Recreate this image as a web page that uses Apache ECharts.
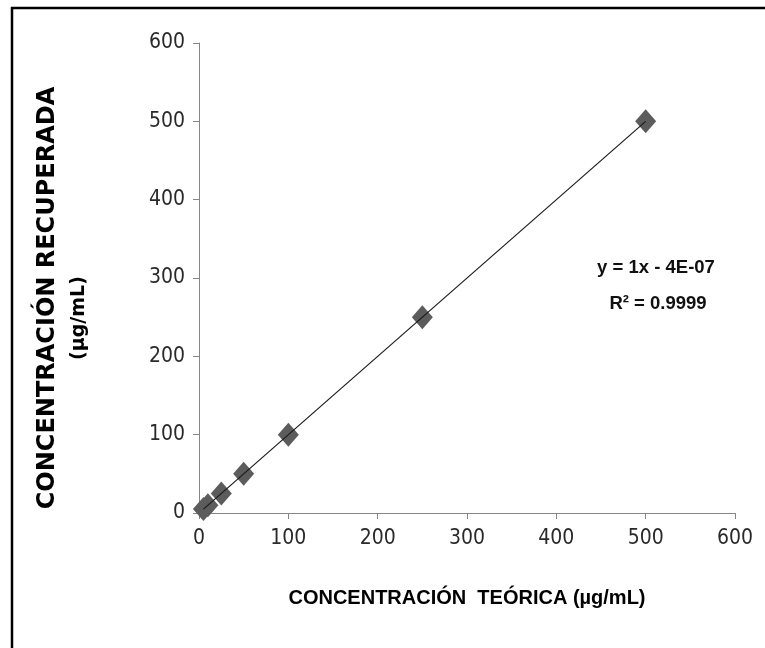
<!DOCTYPE html>
<html>
<head>
<meta charset="utf-8">
<script src="https://cdn.jsdelivr.net/npm/echarts@6/dist/echarts.min.js"></script>
<style>
  html, body { margin: 0; padding: 0; background: #fff; }
  #chart { width: 765px; height: 648px; }
</style>
</head>
<body>
<div id="chart"></div>
<script>
// Theoretical vs. recovered concentration (µg/mL)
const teorica = [5, 10, 25, 50, 100, 250, 500];
const recuperada = [5, 10, 25, 50, 100, 250, 500];
const axisTicks = [0, 100, 200, 300, 400, 500, 600];

// Linear trendline parameters shown in the annotation
const slope = 1;
const intercept = -4e-7;
const r2Text = '0.9999';

const xMin = Math.min(...teorica);
const xMax = Math.max(...teorica);
const trend = [[xMin, slope * xMin + intercept], [xMax, slope * xMax + intercept]];

const tickFont = '"DejaVu Sans Condensed", sans-serif';

const chart = echarts.init(document.getElementById('chart'));
chart.setOption({
  animation: false,
  backgroundColor: '#fff',
  grid: { left: 199, right: 30, top: 43, bottom: 135 },
  xAxis: {
    type: 'value',
    min: axisTicks[0],
    max: axisTicks[axisTicks.length - 1],
    interval: 100,
    splitLine: { show: false },
    axisLine: { onZero: false, lineStyle: { color: '#868686', width: 1 } },
    axisTick: { length: 6, lineStyle: { color: '#868686' } },
    axisLabel: { color: '#2a2a2a', fontFamily: tickFont, fontSize: 21, margin: 15 }
  },
  yAxis: {
    type: 'value',
    min: axisTicks[0],
    max: axisTicks[axisTicks.length - 1],
    interval: 100,
    splitLine: { show: false },
    axisLine: { show: true, onZero: false, lineStyle: { color: '#868686', width: 1 } },
    axisTick: { show: true, length: 6, lineStyle: { color: '#868686' } },
    axisLabel: { color: '#2a2a2a', fontFamily: tickFont, fontSize: 21, margin: 14 }
  },
  series: [
    {
      type: 'line',
      data: trend,
      symbol: 'none',
      lineStyle: { color: '#1a1a1a', width: 1.2 },
      z: 3
    },
    {
      type: 'scatter',
      data: teorica.map((x, i) => [x, recuperada[i]]),
      symbol: 'diamond',
      symbolSize: [21, 24],
      itemStyle: { color: '#5c5c5c', opacity: 1 },
      z: 2
    }
  ],
  graphic: [
    {
      type: 'rect',
      shape: { x: 12, y: 8, width: 800, height: 700 },
      style: { fill: 'none', stroke: '#000', lineWidth: 2.5 },
      silent: true
    },
    {
      type: 'text',
      x: 656, y: 268,
      style: {
        text: 'y = 1x - 4E-07',
        font: 'bold 18.5px "Liberation Sans", sans-serif',
        fill: '#111',
        align: 'center',
        verticalAlign: 'middle'
      }
    },
    {
      type: 'text',
      x: 658, y: 304,
      style: {
        text: 'R² = ' + r2Text,
        font: 'bold 18.5px "Liberation Sans", sans-serif',
        fill: '#111',
        align: 'center',
        verticalAlign: 'middle'
      }
    },
    {
      type: 'text',
      x: 467, y: 598,
      style: {
        text: 'CONCENTRACIÓN  TEÓRICA (µg/mL)',
        font: 'bold 20px "Liberation Sans", sans-serif',
        fill: '#000',
        align: 'center',
        verticalAlign: 'middle'
      }
    },
    {
      type: 'text',
      x: 48, y: 298,
      rotation: Math.PI / 2,
      style: {
        text: 'CONCENTRACIÓN RECUPERADA',
        font: 'bold 24px "DejaVu Sans", sans-serif',
        fill: '#000',
        align: 'center',
        verticalAlign: 'middle'
      }
    },
    {
      type: 'text',
      x: 79, y: 318,
      rotation: Math.PI / 2,
      style: {
        text: '(µg/mL)',
        font: 'bold 19px "DejaVu Sans", sans-serif',
        fill: '#000',
        align: 'center',
        verticalAlign: 'middle'
      }
    }
  ]
});
</script>
</body>
</html>
